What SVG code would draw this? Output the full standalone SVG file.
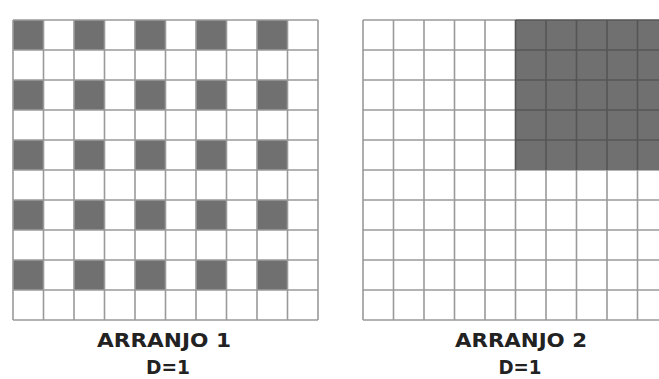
<svg xmlns="http://www.w3.org/2000/svg" width="659" height="379" viewBox="0 0 659 379">
<style>
.dark{fill:#707070}
.grid{fill:none;stroke:#9a9a9a;stroke-width:1.6}
.grid-dark{fill:none;stroke:#555;stroke-width:1.6}
.lbl{font-family:"DejaVu Sans",Verdana,sans-serif;font-weight:bold;font-size:19px;fill:#222;text-anchor:middle}
.d{font-size:20px}
</style>
<rect width="659" height="379" fill="#fff"/>
<g id="arranjo1">
<g class="dark">
<rect x="13" y="20" width="30.5" height="30"/><rect x="74" y="20" width="30.5" height="30"/><rect x="135" y="20" width="30.5" height="30"/><rect x="196" y="20" width="30.5" height="30"/><rect x="257" y="20" width="30.5" height="30"/>
<rect x="13" y="80" width="30.5" height="30"/><rect x="74" y="80" width="30.5" height="30"/><rect x="135" y="80" width="30.5" height="30"/><rect x="196" y="80" width="30.5" height="30"/><rect x="257" y="80" width="30.5" height="30"/>
<rect x="13" y="140" width="30.5" height="30"/><rect x="74" y="140" width="30.5" height="30"/><rect x="135" y="140" width="30.5" height="30"/><rect x="196" y="140" width="30.5" height="30"/><rect x="257" y="140" width="30.5" height="30"/>
<rect x="13" y="200" width="30.5" height="30"/><rect x="74" y="200" width="30.5" height="30"/><rect x="135" y="200" width="30.5" height="30"/><rect x="196" y="200" width="30.5" height="30"/><rect x="257" y="200" width="30.5" height="30"/>
<rect x="13" y="260" width="30.5" height="30"/><rect x="74" y="260" width="30.5" height="30"/><rect x="135" y="260" width="30.5" height="30"/><rect x="196" y="260" width="30.5" height="30"/><rect x="257" y="260" width="30.5" height="30"/>
</g>
<path class="grid" d="M13 20V320M43.5 20V320M74 20V320M104.5 20V320M135 20V320M165.5 20V320M196 20V320M226.5 20V320M257 20V320M287.5 20V320M318 20V320M13 20H318M13 50H318M13 80H318M13 110H318M13 140H318M13 170H318M13 200H318M13 230H318M13 260H318M13 290H318M13 320H318"/>
<text class="lbl" x="164" y="346.5" textLength="134" lengthAdjust="spacingAndGlyphs">ARRANJO 1</text>
<text class="lbl d" x="168" y="374" textLength="44" lengthAdjust="spacingAndGlyphs">D=1</text>
</g>
<g id="arranjo2">
<path class="grid" d="M363 20V320M393.5 20V320M424 20V320M454.5 20V320M485 20V320M515.5 170V320M546 170V320M576.5 170V320M607 170V320M637.5 170V320M363 20H515.5M363 50H515.5M363 80H515.5M363 110H515.5M363 140H515.5M363 170H668M363 200H668M363 230H668M363 260H668M363 290H668M363 320H668"/>
<rect class="dark" x="515.5" y="20" width="152.5" height="150"/>
<path class="grid-dark" d="M515.5 20V170M546 20V170M576.5 20V170M607 20V170M637.5 20V170M515.5 20H668M515.5 50H668M515.5 80H668M515.5 110H668M515.5 140H668"/>
<text class="lbl" x="521" y="346.5" textLength="132" lengthAdjust="spacingAndGlyphs">ARRANJO 2</text>
<text class="lbl d" x="520" y="374" textLength="43" lengthAdjust="spacingAndGlyphs">D=1</text>
</g>
</svg>
